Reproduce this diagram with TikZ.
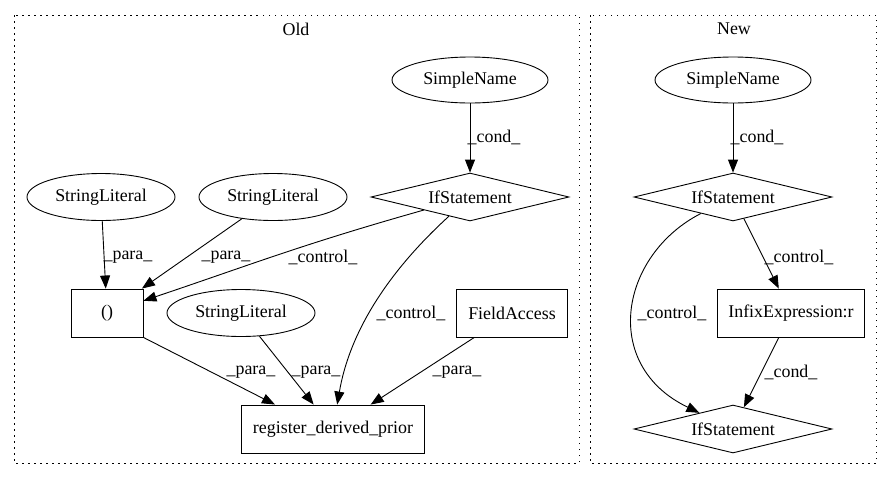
\documentclass[tikz,border=0pt]{standalone}
\usepackage{fontspec}
\setmainfont{Liberation Serif}
\usetikzlibrary{shapes.geometric, arrows.meta, positioning}

\begin{document}
\begin{tikzpicture}[
  x=1pt, y=-1pt,
  font=\fontsize{17.9}{20}\selectfont,
  namebox/.style={ellipse, draw, line width=0.9pt, inner sep=0pt, minimum width=156pt, minimum height=46pt},
  litbox/.style={ellipse, draw, line width=0.9pt, inner sep=0pt, minimum width=148pt, minimum height=47pt},
  ifbox/.style={diamond, draw, line width=0.9pt, inner sep=0pt, aspect=4, minimum width=198pt, minimum height=48pt},
  exprbox/.style={rectangle, draw, line width=0.9pt, inner sep=0pt, minimum height=48pt},
  flow/.style={-{Triangle[length=13pt, width=10pt]}, line width=0.9pt},
  edgelabel/.style={inner sep=0pt},
  cluster/.style={draw, line width=1pt, dash pattern=on 1.5pt off 4.5pt}
]
  \useasboundingbox (0,0) rectangle (892,480);

  % Cluster frames and titles
  \draw[cluster] (14,15) rectangle (579,463);
  \draw[cluster] (590,15) rectangle (876,463);
  \node[edgelabel] (old-title) at (296,29) {Old};
  \node[edgelabel] (new-title) at (734,29) {New};

  % Old version
  \node[namebox] (old-cond) at (470,80) {SimpleName};
  \node[ifbox] (old-if) at (470,197) {IfStatement};
  \node[litbox] (old-lit1) at (101,197) {StringLiteral};
  \node[litbox] (old-lit2) at (273,197) {StringLiteral};
  \node[exprbox, minimum width=72pt] (old-paren) at (107,313) {()};
  \node[litbox] (old-lit3) at (241,313) {StringLiteral};
  \node[exprbox, minimum width=111pt] (old-field) at (512,313) {FieldAccess};
  \node[exprbox, minimum width=183pt] (old-reg) at (333,429) {register\_derived\_prior};

  % New version
  \node[namebox] (new-cond) at (733,80) {SimpleName};
  \node[ifbox] (new-if) at (733,197) {IfStatement};
  \node[exprbox, minimum width=147pt] (new-infix) at (791,313) {InfixExpression:r};
  \node[ifbox] (new-if2) at (733,429) {IfStatement};

  % Old edges
  \draw[flow] (old-cond) -- (old-if);
  \draw[flow] (old-lit1) -- (old-paren);
  \draw[flow] (old-lit2) -- (old-paren);
  \draw[flow] (old-if) .. controls (300,245) and (250,265) .. (old-paren);
  \draw[flow] (old-if) .. controls (390,270) and (350,330) .. (old-reg);
  \draw[flow] (old-paren.south east) -- ([xshift=-58pt]old-reg.north);
  \draw[flow] (old-lit3) -- (old-reg);
  \draw[flow] (old-field) -- (old-reg);

  % New edges
  \draw[flow] (new-cond) -- (new-if);
  \draw[flow] (new-if) -- (new-infix);
  \draw[flow] (new-if) .. controls (620,255) and (600,365) .. (new-if2);
  \draw[flow] (new-infix) -- (new-if2);

  % Edge labels
  \node[edgelabel] (lbl-cond-old) at (494,137) {\_cond\_};
  \node[edgelabel] (lbl-para-1) at (128,257) {\_para\_};
  \node[edgelabel] (lbl-para-2) at (226,257) {\_para\_};
  \node[edgelabel] (lbl-ctrl-1) at (323,257) {\_control\_};
  \node[edgelabel] (lbl-ctrl-2) at (411,313) {\_control\_};
  \node[edgelabel] (lbl-para-3) at (251,372) {\_para\_};
  \node[edgelabel] (lbl-para-4) at (316,372) {\_para\_};
  \node[edgelabel] (lbl-para-5) at (457,372) {\_para\_};
  \node[edgelabel] (lbl-cond-new) at (757,137) {\_cond\_};
  \node[edgelabel] (lbl-ctrl-3) at (799,257) {\_control\_};
  \node[edgelabel] (lbl-ctrl-4) at (672,313) {\_control\_};
  \node[edgelabel] (lbl-cond-2) at (791,372) {\_cond\_};
\end{tikzpicture}
\end{document}
